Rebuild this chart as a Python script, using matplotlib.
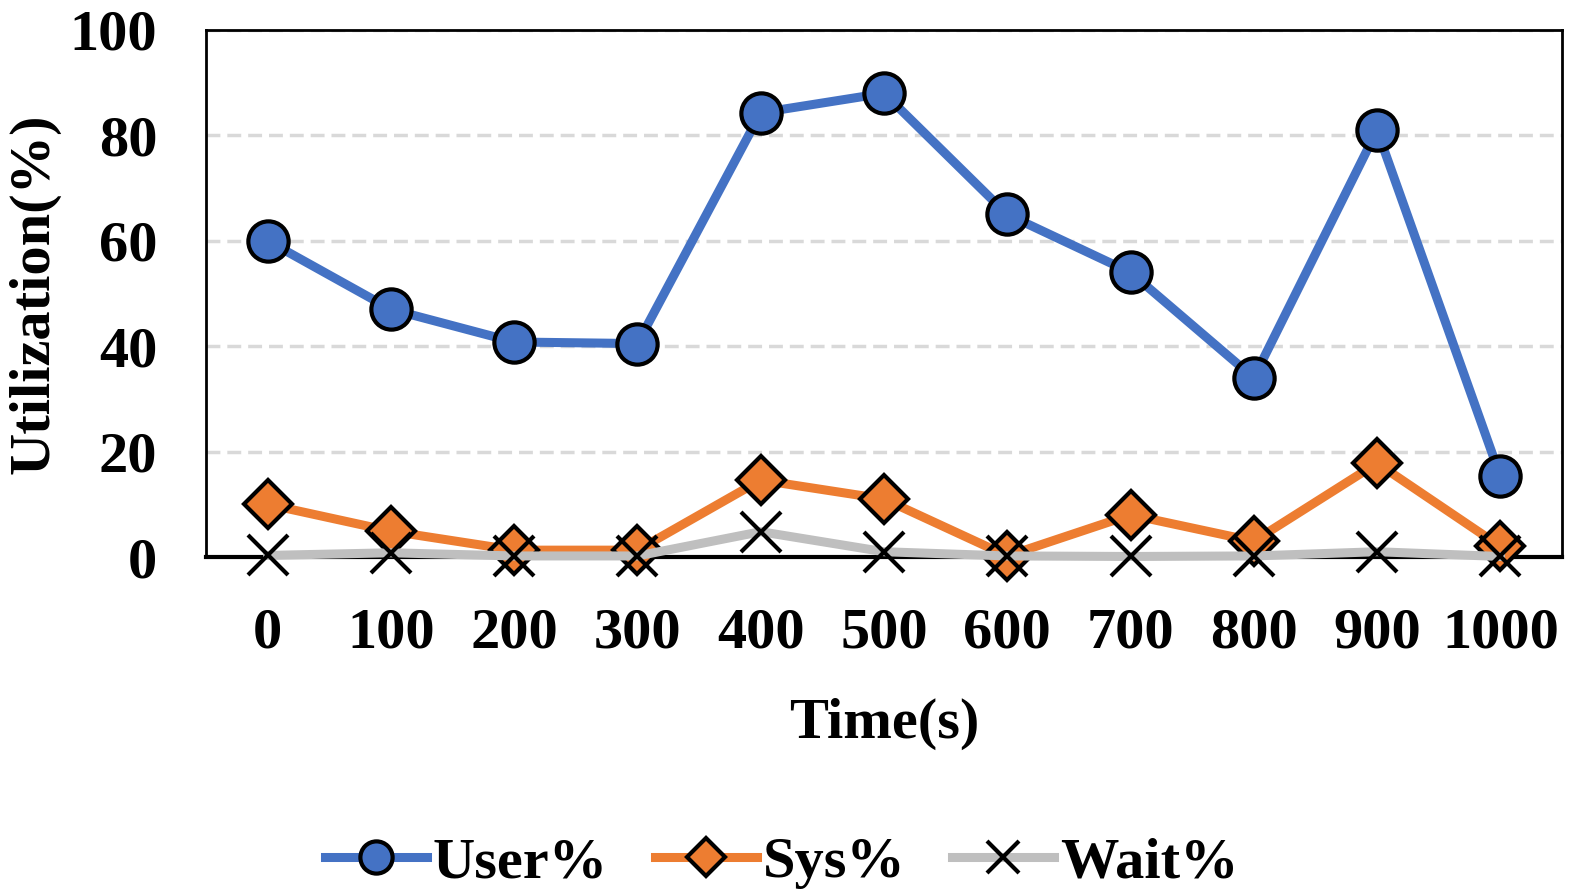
import matplotlib
matplotlib.use('Agg')
import matplotlib.pyplot as plt

# CPU utilization samples over time
times = [0, 100, 200, 300, 400, 500, 600, 700, 800, 900, 1000]
user_pct = [60.0, 47.0, 40.8, 40.5, 84.3, 88.0, 65.0, 54.0, 34.0, 81.0, 15.3]
sys_pct = [10.0, 4.9, 1.3, 1.3, 14.6, 11.0, 0.2, 8.0, 3.0, 17.8, 2.0]
wait_pct = [0.3, 0.8, 0.2, 0.2, 4.8, 1.0, 0.2, 0.1, 0.2, 1.0, 0.1]

plt.rcParams['font.family'] = ['Liberation Serif', 'DejaVu Serif']
plt.rcParams['font.weight'] = 'bold'

fig = plt.figure(figsize=(15.76, 8.94), dpi=100)
ax = fig.add_axes([206 / 1576, 1 - 557 / 894, (1562 - 206) / 1576, (557 - 30) / 894])

ax.plot(times, user_pct, color='#4472c4', linewidth=6.5, marker='o', markersize=29,
        markerfacecolor='#4472c4', markeredgecolor='black', markeredgewidth=3,
        label='User%', zorder=3, clip_on=False)
ax.plot(times, sys_pct, color='#ed7d31', linewidth=6.5, marker='D', markersize=24,
        markerfacecolor='#ed7d31', markeredgecolor='black', markeredgewidth=3,
        label='Sys%', zorder=4, clip_on=False)
ax.plot(times, wait_pct, color='#bfbfbf', linewidth=6.5, marker='x', markersize=29,
        markeredgecolor='black', markeredgewidth=3, label='Wait%', zorder=5, clip_on=False)

ax.set_xlim(-50, 1050)
ax.set_ylim(0, 100)
ax.set_xticks(times)
ax.set_yticks([0, 20, 40, 60, 80, 100])
ax.tick_params(axis='both', length=0, labelsize=42)
ax.tick_params(axis='y', pad=35)
ax.tick_params(axis='x', pad=36)
for lbl in ax.get_xticklabels() + ax.get_yticklabels():
    lbl.set_fontweight('bold')

ax.grid(axis='y', color='#d9d9d9', linestyle=(0, (4, 2)), linewidth=2.5, zorder=0)
for s in ax.spines.values():
    s.set_linewidth(2)
    s.set_color('black')
ax.spines['bottom'].set_linewidth(3)
ax.spines['bottom'].set_zorder(2)

ax.set_xlabel('Time(s)', fontsize=42, fontweight='bold', labelpad=28)
ax.set_ylabel('Utilization(%)', fontsize=42, fontweight='bold', labelpad=7)

fig.legend(loc='center', bbox_to_anchor=(0.496, 0.035), ncol=3, frameon=False,
           handlelength=1.75, columnspacing=0.8, handletextpad=0.1, markerscale=0.8,
           prop={'weight': 'bold', 'size': 42})

fig.savefig('out.png', dpi=100)
